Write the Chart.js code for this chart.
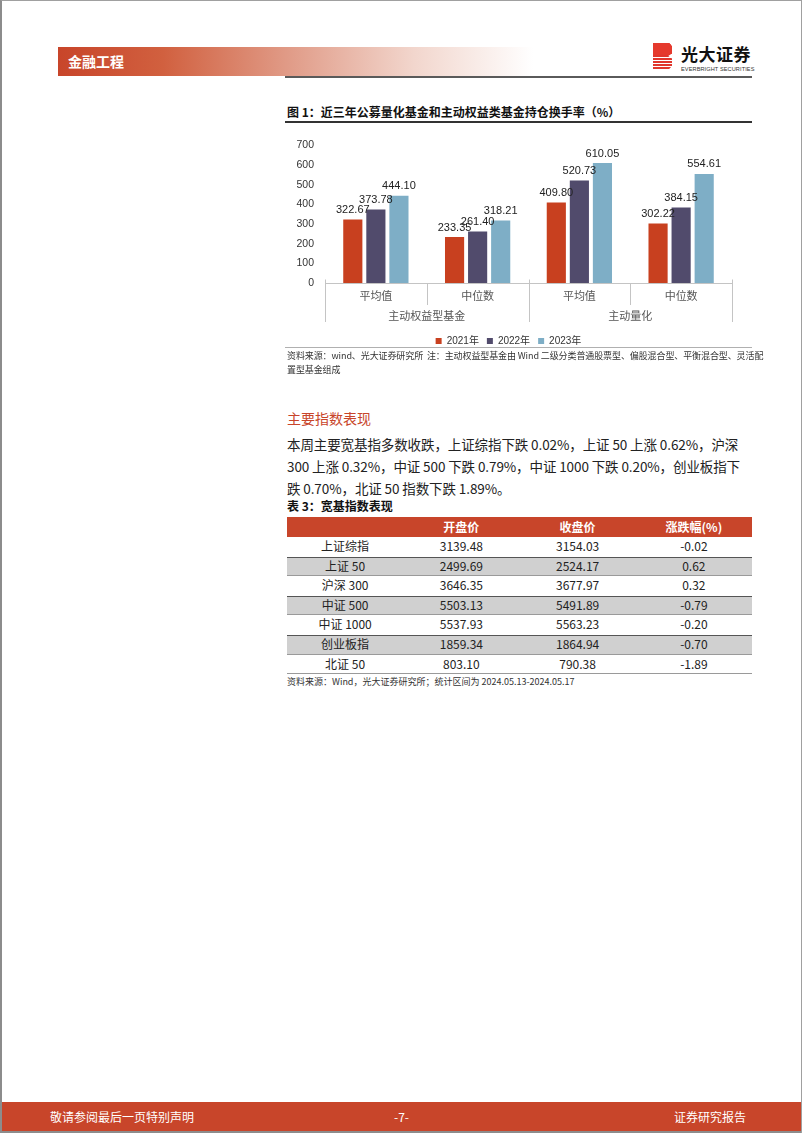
<!DOCTYPE html>
<html>
<head>
<meta charset="utf-8">
<script src="https://cdn.jsdelivr.net/npm/chart.js@4.4.1/dist/chart.umd.min.js"></script>
<style>
  html, body { margin: 0; padding: 0; background: #fff; }
  body { width: 802px; height: 1133px; position: relative; overflow: hidden;
         font-family: "Noto Sans CJK SC", "Noto Sans", sans-serif; color: #222; }
  .abs { position: absolute; }
  .frame { position: absolute; left: 0; top: 0; right: 0; bottom: 0;
           border-left: 2px solid #8c8c8c; border-top: 1px solid #a0a0a0; border-right: 1px solid #a0a0a0; }
  .band { left: 58px; top: 47px; width: 475px; height: 29px;
          background: linear-gradient(to right, #c8452a 0%, #d1603f 22%, #e09a86 48%, #f2d6cd 75%, #ffffff 100%); }
  .band span { position: absolute; left: 10px; top: 5px; color: #fff; font-weight: bold; font-size: 14px; line-height: 18px; }
  .rule { left: 285px; top: 76px; width: 467px; height: 2px; background: #5a5a5a; }
  .logo-icon { left: 653px; top: 43px; width: 19px; height: 26px;
               background: repeating-linear-gradient(to bottom, #e0362c 0px, #e0362c 2.2px, #fff 2.2px, #fff 3px);
               clip-path: polygon(0 0, 85% 0, 100% 12%, 100% 40%, 80% 50%, 100% 60%, 100% 88%, 85% 100%, 0 100%); }
  .logo-icon::before { content: ""; position: absolute; left: 0; top: 0; width: 100%; height: 45%; background: #e5392d; }
  .logo-cn { left: 681px; top: 44px; font-size: 17px; font-weight: bold; color: #111; line-height: 20px; letter-spacing: 0.5px; }
  .logo-en { left: 681px; top: 66px; font-size: 5.6px; color: #333; line-height: 6px; font-family: "Liberation Sans", sans-serif; letter-spacing: 0.1px; }
  .fig-title { left: 287px; top: 104px; font-size: 12px; font-weight: bold; color: #111; line-height: 16px; }
  .fig-rule { left: 285px; top: 121px; width: 467px; height: 1.5px; background: #333; }
  .chart-box { left: 285px; top: 128px; width: 467px; height: 228px; }
  .note-rule { left: 285px; top: 347px; width: 467px; height: 1px; background: #b0b0b0; }
  .note { left: 287px; top: 349px; font-size: 9px; line-height: 14px; color: #333; white-space: nowrap; letter-spacing: -0.1px; }
  .h2 { left: 287px; top: 408px; font-size: 14px; color: #c8452a; line-height: 20px; }
  .para { left: 287px; top: 433px; font-size: 13.5px; line-height: 22px; color: #222; white-space: nowrap;
          letter-spacing: -0.1px; }
  .tbl-title { left: 287px; top: 498px; font-size: 12px; font-weight: bold; color: #111; line-height: 16px; }
  .tbl { left: 287px; top: 517px; width: 465px; font-size: 12px; color: #222; }
  .tbl .row { display: flex; height: 19.6px; box-sizing: border-box; }
  .tbl .row div { flex: 1; text-align: center; line-height: 17px; }
  .tbl .row.head { height: 20px; background: #c8452a; color: #fff; font-weight: bold; }
  .tbl .row.head div { line-height: 20px; }
  .tbl .row.g { background: #d0d0d0; border-top: 1.5px solid #555; border-bottom: 1px solid #9a9a9a; }
  .tbl .row.g div { line-height: 16px; }
  .tbl .row.last { border-bottom: 1px solid #9a9a9a; }
  .src { left: 287px; top: 675px; font-size: 9px; line-height: 14px; color: #333; }
  .footer { left: 2px; top: 1102px; width: 799px; height: 29px; background: #c8452a; }
  .footer span { position: absolute; top: 6px; color: #fff; font-size: 12px; line-height: 17px; }
  .foot-line { left: 2px; top: 1131px; width: 799px; height: 2px; background: #8c8c8c; }
</style>
</head>
<body>
<div class="frame"></div>

<div class="abs band"><span>金融工程</span></div>
<div class="abs rule"></div>
<div class="abs logo-icon"></div>
<div class="abs logo-cn">光大证券</div>
<div class="abs logo-en">EVERBRIGHT SECURITIES</div>

<div class="abs fig-title">图 1：近三年公募量化基金和主动权益类基金持仓换手率（%）</div>
<div class="abs fig-rule"></div>
<div class="abs chart-box"><canvas id="turnoverChart"></canvas></div>
<div class="abs note-rule"></div>
<div class="abs note">资料来源：wind、光大证券研究所&nbsp; 注：主动权益型基金由 Wind 二级分类普通股票型、偏股混合型、平衡混合型、灵活配<br>置型基金组成</div>

<div class="abs h2">主要指数表现</div>
<div class="abs para">本周主要宽基指多数收跌，上证综指下跌 0.02%，上证 50 上涨 0.62%，沪深<br>300 上涨 0.32%，中证 500 下跌 0.79%，中证 1000 下跌 0.20%，创业板指下<br>跌 0.70%，北证 50 指数下跌 1.89%。</div>

<div class="abs tbl-title">表 3：宽基指数表现</div>
<div class="abs tbl" id="idxTable"></div>
<div class="abs src">资料来源：Wind，光大证券研究所；统计区间为 2024.05.13-2024.05.17</div>

<div class="abs footer">
  <span style="left:48px">敬请参阅最后一页特别声明</span>
  <span style="left:0;width:799px;text-align:center">-7-</span>
  <span style="right:55px">证券研究报告</span>
</div>
<div class="abs foot-line"></div>

<script>
// 图表数据
const groupLabels = ['主动权益型基金', '主动量化'];
const statLabels = ['平均值', '中位数', '平均值', '中位数'];
const seriesNames = ['2021年', '2022年', '2023年'];
const turnover2021 = [322.67, 233.35, 409.80, 302.22];
const turnover2022 = [373.78, 261.40, 520.73, 384.15];
const turnover2023 = [444.10, 318.21, 610.05, 554.61];
const yMax = 700;
const yStep = 100;

// 表 3 数据
const indexNames = ['上证综指', '上证 50', '沪深 300', '中证 500', '中证 1000', '创业板指', '北证 50'];
const openPrices = ['3139.48', '2499.69', '3646.35', '5503.13', '5537.93', '1859.34', '803.10'];
const closePrices = ['3154.03', '2524.17', '3677.97', '5491.89', '5563.23', '1864.94', '790.38'];
const changePct = ['-0.02', '0.62', '0.32', '-0.79', '-0.20', '-0.70', '-1.89'];
const tableHeads = ['', '开盘价', '收盘价', '涨跌幅(%)'];

const tbl = document.getElementById('idxTable');
let html = '<div class="row head">' + tableHeads.map(h => '<div>' + h + '</div>').join('') + '</div>';
indexNames.forEach((name, i) => {
    const cls = (i % 2 === 1 ? ' g' : '') + (i === indexNames.length - 1 ? ' last' : '');
    html += '<div class="row' + cls + '"><div>' + name + '</div><div>' + openPrices[i] + '</div><div>' +
        closePrices[i] + '</div><div>' + changePct[i] + '</div></div>';
});
tbl.innerHTML = html;

const numFont = '"Liberation Sans", Arial, "Noto Sans CJK SC", sans-serif';
const cjkFont = '"Noto Sans CJK SC", sans-serif';
const rowHeight = 17; // 两级分类轴每一层的高度

// 柱顶数值
const valueLabels = {
    id: 'valueLabels',
    afterDatasetsDraw(chart) {
        const ctx = chart.ctx;
        ctx.save();
        ctx.font = '11px ' + numFont;
        ctx.fillStyle = '#222';
        ctx.textAlign = 'center';
        ctx.textBaseline = 'bottom';
        chart.data.datasets.forEach((ds, i) => {
            chart.getDatasetMeta(i).data.forEach((bar, j) => {
                ctx.fillText(ds.data[j].toFixed(2), bar.x, bar.y - 4);
            });
        });
        ctx.restore();
    }
};

// 两级分类轴的分隔线
const axisLines = {
    id: 'axisLines',
    afterDraw(chart) {
        const ctx = chart.ctx;
        const x = chart.scales.x;
        const x2 = chart.scales.x2;
        const base = Math.round(chart.chartArea.bottom) + 0.5;
        const bottom2 = x2.top + rowHeight;
        const perGroup = statLabels.length / groupLabels.length;
        ctx.save();
        ctx.strokeStyle = '#c4c4c4';
        ctx.lineWidth = 1;
        ctx.beginPath();
        ctx.moveTo(x.left, base);
        ctx.lineTo(x.right, base);
        for (let i = 0; i <= statLabels.length; i++) {
            const px = Math.round(x.getPixelForValue(i - 0.5)) + 0.5;
            if (i % perGroup === 0) {
                ctx.moveTo(px, base - 4);
                ctx.lineTo(px, bottom2);
            } else {
                ctx.moveTo(px, base);
                ctx.lineTo(px, x.bottom);
            }
        }
        ctx.stroke();
        ctx.restore();
    }
};

const ctx = document.getElementById('turnoverChart').getContext('2d');
const chart = new Chart(ctx, {
    type: 'bar',
    data: {
        labels: statLabels,
        datasets: [
            { label: seriesNames[0], data: turnover2021, backgroundColor: '#c8401f' },
            { label: seriesNames[1], data: turnover2022, backgroundColor: '#514b6c' },
            { label: seriesNames[2], data: turnover2023, backgroundColor: '#7eaec6' }
        ]
    },
    options: {
        responsive: true,
        maintainAspectRatio: false,
        animation: false,
        datasets: { bar: { categoryPercentage: 0.68, barPercentage: 0.83 } },
        layout: { padding: { top: 17, right: 20, left: 0, bottom: 0 } },
        scales: {
            y: {
                min: 0,
                max: yMax,
                grid: { display: false, drawTicks: false },
                border: { display: false },
                ticks: { stepSize: yStep, padding: 11, color: '#333', font: { size: 10.5, family: numFont } },
                afterFit: s => { s.width = 40; }
            },
            x: {
                position: 'bottom',
                grid: { display: false, drawTicks: false },
                border: { display: false },
                ticks: { padding: 6, color: '#555', autoSkip: false, maxRotation: 0, font: { size: 11, family: cjkFont } },
                afterFit: s => { s.height = 22; }
            },
            x2: {
                type: 'category',
                position: 'bottom',
                labels: groupLabels,
                grid: { display: false, drawTicks: false },
                border: { display: false },
                ticks: { padding: 4, color: '#555', autoSkip: false, maxRotation: 0, font: { size: 11, family: cjkFont } },
                afterFit: s => { s.height = 23; }
            }
        },
        plugins: {
            legend: {
                position: 'bottom',
                labels: { boxWidth: 6, boxHeight: 6, padding: 8, color: '#333', font: { size: 10, family: numFont } }
            },
            tooltip: { enabled: false }
        }
    },
    plugins: [valueLabels, axisLines]
});
</script>
</body>
</html>
